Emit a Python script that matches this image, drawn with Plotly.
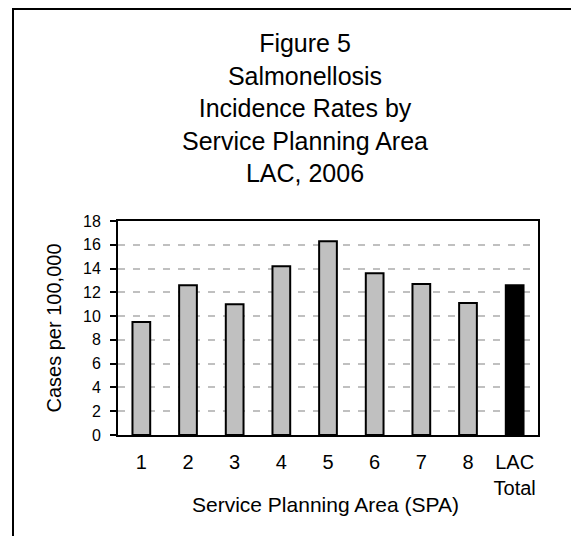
import plotly.graph_objects as go

categories = ["1", "2", "3", "4", "5", "6", "7", "8", "LAC<br>Total"]
rates = [9.5, 12.6, 11.0, 14.2, 16.3, 13.6, 12.7, 11.1, 12.6]
bar_colors = ["#c0c0c0"] * 8 + ["#000000"]
y_ticks = [0, 2, 4, 6, 8, 10, 12, 14, 16, 18]

FONT = "Liberation Sans, Arial, sans-serif"

# The page body has an 8px margin, so the figure is offset by 8px.
OFF = 8
PAGE_W, PAGE_H = 579, 536
W, H = PAGE_W - OFF, PAGE_H - OFF

# plot area in page pixels
PL, PR, PT, PB = 118, 538, 221, 435
L, R, T, B = PL - OFF, W - (PR - OFF), PT - OFF, H - (PB - OFF)
pw, ph = W - L - R, H - T - B


def px_x(p):  # page x -> paper
    return (p - OFF - L) / pw


def px_y(p):  # page y -> paper
    return (H - B - (p - OFF)) / ph


fig = go.Figure(
    go.Bar(
        x=categories,
        y=rates,
        width=0.38,
        marker=dict(color=bar_colors, line=dict(color="black", width=2)),
        hoverinfo="x+y",
    )
)

fig.update_layout(
    width=W,
    height=H,
    margin=dict(l=L, r=R, t=T, b=B, pad=0),
    paper_bgcolor="white",
    plot_bgcolor="white",
    showlegend=False,
    font=dict(family=FONT, color="black"),
    title=dict(
        text="Figure 5<br>Salmonellosis<br>Incidence Rates by<br>Service Planning Area<br>LAC, 2006",
        font=dict(size=25, family=FONT, color="black"),
        x=(305 - OFF) / W,
        xanchor="center",
        xref="container",
        y=1 - (52 - OFF) / H,
        yref="container",
        yanchor="top",
    ),
    xaxis=dict(
        showline=True,
        linecolor="black",
        linewidth=2,
        mirror=True,
        ticks="",
        tickfont=dict(size=20, family=FONT),
        ticklabelstandoff=8,
        fixedrange=True,
    ),
    yaxis=dict(
        range=[0, 18],
        tickvals=y_ticks,
        showline=True,
        linecolor="black",
        linewidth=2,
        mirror=True,
        ticks="outside",
        ticklen=6,
        tickwidth=1.5,
        tickcolor="black",
        tickfont=dict(size=16, family=FONT),
        ticklabelstandoff=6,
        showgrid=True,
        gridcolor="#c0c0c0",
        gridwidth=2,
        griddash="7px,8px",
        zeroline=False,
        title=dict(text="Cases per 100,000", font=dict(size=20, family=FONT), standoff=16),
        fixedrange=True,
    ),
    annotations=[
        dict(
            text="Service Planning Area (SPA)",
            xref="paper",
            yref="paper",
            x=px_x(325.5),
            y=px_y(504),
            xanchor="center",
            yanchor="middle",
            showarrow=False,
            font=dict(size=21, family=FONT, color="black"),
        )
    ],
    shapes=[
        dict(
            type="rect",
            xref="paper",
            yref="paper",
            x0=px_x(13),
            x1=px_x(577),
            y0=px_y(560),
            y1=px_y(9),
            line=dict(color="black", width=2),
            fillcolor="rgba(0,0,0,0)",
            layer="below",
        )
    ],
)

fig.write_html("out.html")
